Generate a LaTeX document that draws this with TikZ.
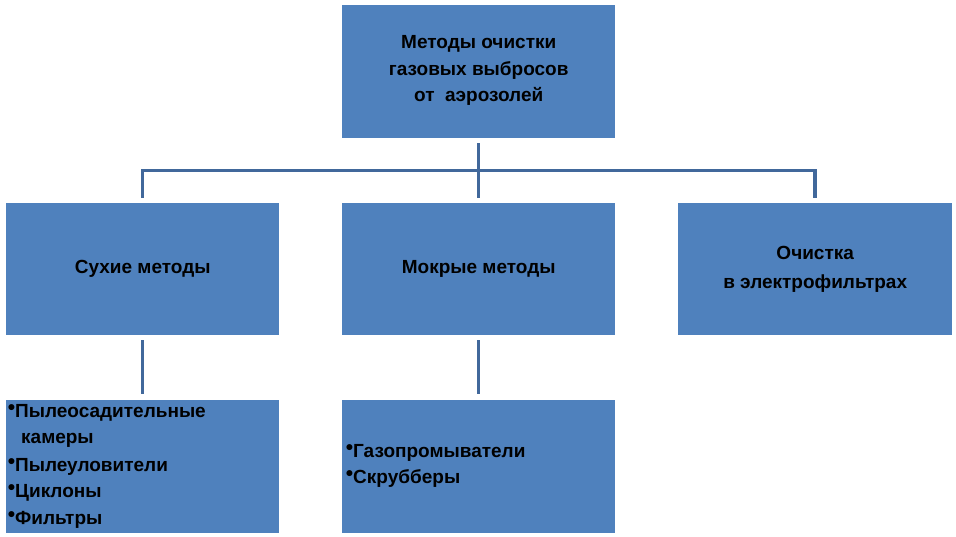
\documentclass[tikz,border=0pt]{standalone}
\usepackage{fontspec}
\setmainfont{Liberation Sans}
\definecolor{boxblue}{HTML}{4F81BD}
\definecolor{lineblue}{HTML}{41689B}
\newcommand\blt{\llap{\raisebox{3pt}{\fontsize{21}{21}\selectfont•}\hspace{0pt}}}
\begin{document}
\begin{tikzpicture}[x=1pt,y=-1pt,
  box/.style={fill=boxblue, draw=none, inner sep=0pt, anchor=north west},
  txt/.style={font=\bfseries\fontsize{19}{26.5}\selectfont, text=black, align=center},
  item/.style={font=\bfseries\fontsize{19}{27}\selectfont, text=black, inner sep=0pt, anchor=base west},
  conn/.style={draw=lineblue, line width=3.5pt}]
\useasboundingbox (0,0) rectangle (956,537);
\fill[white] (0,0) rectangle (956,537);
% boxes
\node[box, minimum width=273pt, minimum height=133pt] (top) at (342,5) {};
\node[box, minimum width=273pt, minimum height=132pt] (dry) at (6,203) {};
\node[box, minimum width=273pt, minimum height=132pt] (wet) at (342,203) {};
\node[box, minimum width=274pt, minimum height=132pt] (elec) at (678,203) {};
\node[box, minimum width=273pt, minimum height=133pt] (dryl) at (6,400) {};
\node[box, minimum width=273pt, minimum height=133pt] (wetl) at (342,400) {};
% connectors
\draw[conn] ([yshift=-5pt]top.south) -- ([yshift=5pt]wet.north);
\draw[conn] ([yshift=5pt]dry.north) |- ([yshift=-32pt]top.south) -| ([yshift=5pt]elec.north);
\draw[conn] ([yshift=-5pt]dry.south) -- ([yshift=6pt]dryl.north);
\draw[conn] ([yshift=-5pt]wet.south) -- ([yshift=6pt]wetl.north);
% texts
\node[txt] (toptxt) at ([yshift=1pt]top.center) {Методы очистки\\газовых выбросов\\от~~аэрозолей};
\node[txt] (drytxt) at (dry.center) {Сухие методы};
\node[txt] (wettxt) at (wet.center) {Мокрые методы};
\node[txt, font=\bfseries\fontsize{19}{29}\selectfont] (electxt) at (elec.center) {Очистка\\в электрофильтрах};
\node[item] (d1) at (15,417) {\blt Пылеосадительные};
\node[item] (d2) at (21,443) {камеры};
\node[item] (d3) at (15,471) {\blt Пылеуловители};
\node[item] (d4) at (15,497) {\blt Циклоны};
\node[item] (d5) at (15,524) {\blt Фильтры};
\node[item] (w1) at (353,457) {\blt Газопромыватели};
\node[item] (w2) at (353,483) {\blt Скрубберы};
\end{tikzpicture}
\end{document}
